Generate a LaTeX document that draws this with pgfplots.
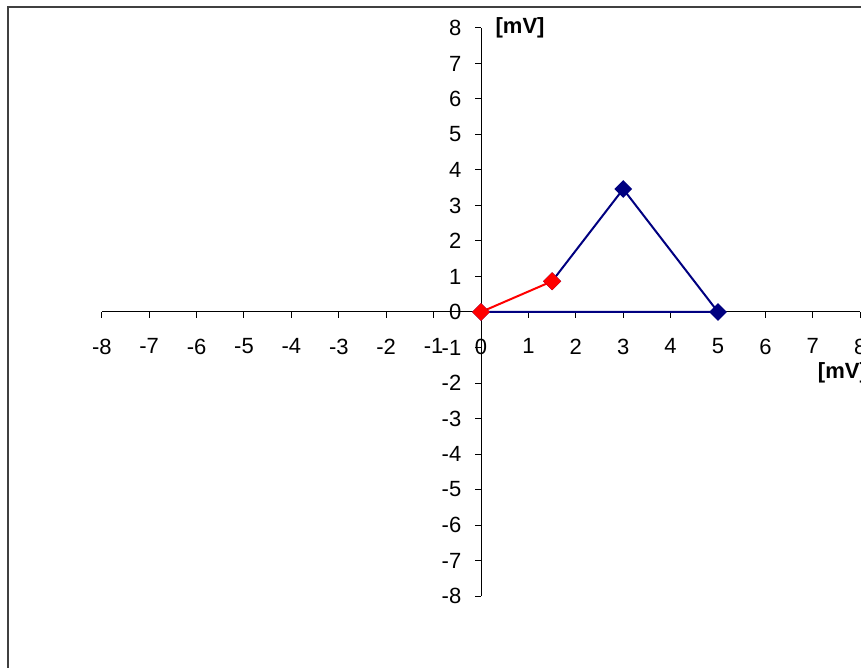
\documentclass[border=0pt]{standalone}
\usepackage{fontspec}
\setmainfont{Liberation Sans}
\usepackage{pgfplots}
\pgfplotsset{compat=1.18}
\definecolor{navyb}{RGB}{0,0,128}
\definecolor{framec}{RGB}{64,64,64}
\begin{document}
\fontsize{11}{13}\selectfont
\begin{tikzpicture}
\useasboundingbox (-240.5pt,-178pt) rectangle (190pt,156pt);
\clip (-240.5pt,-178pt) rectangle (190pt,156pt);
\draw[line width=1.2pt, color=framec] (-236.5pt,-230pt) -- (-236.5pt,152.5pt) -- (230pt,152.5pt);
\begin{axis}[
  at={(0pt,0pt)}, anchor=origin,
  x=23.7pt, y=17.75pt,
  xmin=-8, xmax=8, ymin=-8, ymax=8,
  axis lines=middle,
  axis line style={black, line width=0.5pt, -},
  xtick={-8,...,8}, ytick={-8,...,8},
  hide obscured x ticks=false, hide obscured y ticks=false,
  tick align=outside,
  major tick length=3pt,
  tick style={black, line width=0.5pt},
  /pgf/number format/assume math mode=true,
  xticklabel style={font=\fontsize{11}{13}\selectfont, yshift=-6.5pt},
  yticklabel style={font=\fontsize{11}{13}\selectfont, xshift=-3pt},
  clip=false,
]
\addplot[navyb, line width=1pt, mark=square*, mark size=2.65pt, mark options={fill=navyb, rotate=45}]
  coordinates {(1.5,0.866) (3,3.464) (5,0) (0,0)};
\addplot[red, line width=1pt, mark=square*, mark size=2.65pt, mark options={fill=red, rotate=45}]
  coordinates {(0,0) (1.5,0.866)};
\node[anchor=west, inner sep=0pt, font=\bfseries\fontsize{11}{13}\selectfont] at (axis cs:0.3,8) {[mV]};
\node[anchor=west, inner sep=0pt, font=\bfseries\fontsize{11}{13}\selectfont] at (axis cs:7.1,-1.7) {[mV]};
\end{axis}
\end{tikzpicture}
\end{document}
